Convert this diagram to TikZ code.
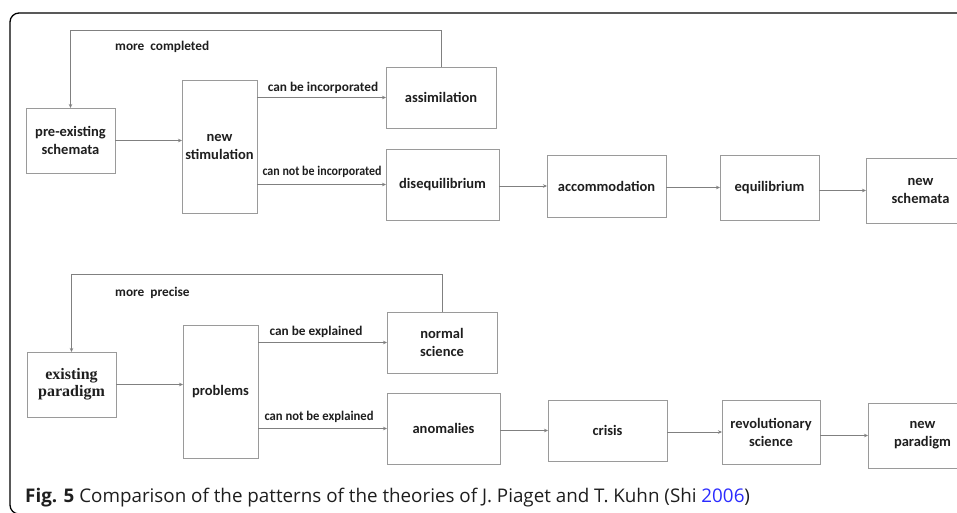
\documentclass[tikz,border=0pt]{standalone}
\usepackage{fontspec}
\setmainfont{Carlito}
\newfontfamily\serifbox{Liberation Serif}
\newfontfamily\capfont{Open Sans}
\usetikzlibrary{arrows.meta}
\definecolor{boxgray}{HTML}{9A9A9A}
\definecolor{linegray}{HTML}{808080}
\definecolor{txt}{HTML}{1E1E1E}
\definecolor{linkblue}{HTML}{2B2BFF}
\begin{document}
\begin{tikzpicture}[x=1pt,y=-1pt,
  box/.style={draw=boxgray,line width=0.9pt,inner sep=0pt,outer sep=0pt,align=center,
    font=\fontsize{14.5}{18}\selectfont\bfseries,text=txt},
  arr/.style={draw=linegray,line width=0.9pt,-{Stealth[length=4pt,width=3.5pt]}},
  lab/.style={font=\fontsize{13.3}{16}\selectfont\bfseries,text=txt,inner sep=0pt}]
\useasboundingbox (0,0) rectangle (957,512);
\clip (0,0) rectangle (957,512);
% frame
\draw[black,line width=1.3pt,rounded corners=9pt] (990,13) -- (10,13) -- (10,514) -- (990,514);
% ---------- top diagram ----------
\node[box,minimum width=89pt,minimum height=65pt] (pre) at (70.5,140.5) {pre-existing\\schemata};
\node[box,minimum width=75pt,minimum height=133pt] (stim) at (219.5,146.5) {new\\stimulation};
\node[box,minimum width=110pt,minimum height=61pt] (assim) at (441,97.5) {assimilation};
\node[box,minimum width=113pt,minimum height=71pt] (diseq) at (442.5,184.5) {disequilibrium};
\node[box,minimum width=119pt,minimum height=62pt] (accom) at (606.5,186) {accommodation};
\node[box,minimum width=99pt,minimum height=65pt] (equil) at (769.5,187.5) {equilibrium};
\node[box,minimum width=109pt,minimum height=65pt] (newsch) at (920.5,190.5) {new\\schemata};
\coordinate (fbtopA) at (0,30);
\draw[arr] (assim.north) -- (assim.north |- fbtopA) -| (pre.north);
\draw[arr] (pre.east) -- (stim.west |- pre.east);
\draw[arr] (stim.east |- assim) -- (assim);
\draw[arr] (stim.east |- diseq) -- (diseq);
\draw[arr] (diseq.east |- accom) -- (accom);
\draw[arr] (accom.east |- equil) -- (equil);
\draw[arr] (equil.east |- newsch) -- (newsch);
\node[lab,anchor=west] (mc) at (115,47) {more\ \ completed};
\node[lab] (cbi) at (323,88) {can be incorporated};
\node[lab] (cnbi) at (322,172) {\scalebox{0.9}[1]{can not be incorporated}};
% ---------- bottom diagram ----------
\node[box,minimum width=89pt,minimum height=65pt,font=\serifbox\fontsize{16}{17}\selectfont\bfseries] (exist) at (71.5,384.5) {existing\\paradigm};
\node[box,minimum width=75pt,minimum height=133pt] (prob) at (220.5,391.5) {problems};
\node[box,minimum width=110pt,minimum height=61pt] (normal) at (442,342.5) {normal\\science};
\node[box,minimum width=113pt,minimum height=71pt] (anom) at (443.5,428.5) {anomalies};
\node[box,minimum width=119pt,minimum height=61pt] (crisis) at (607.5,430.5) {crisis};
\node[box,minimum width=98pt,minimum height=64pt] (revol) at (771,432) {revolutionary\\science};
\node[box,minimum width=109pt,minimum height=65pt] (newpar) at (922.5,435.5) {new\\paradigm};
\coordinate (fbtopB) at (0,274);
\draw[arr] (normal.north) -- (normal.north |- fbtopB) -| (exist.north);
\draw[arr] (exist.east) -- (prob.west |- exist.east);
\draw[arr] (prob.east |- normal) -- (normal);
\draw[arr] (prob.east |- anom) -- (anom);
\draw[arr] (anom.east |- crisis) -- (crisis);
\draw[arr] (crisis.east |- revol) -- (revol);
\draw[arr] (revol.east |- newpar) -- (newpar);
\node[lab,anchor=west] (mp) at (115,293) {more\ \ precise};
\node[lab] (cbe) at (316,332) {can be explained};
\node[lab] (cnbe) at (319,417) {\scalebox{0.95}[1]{can not be explained}};
% caption
\node[anchor=base west,inner sep=0pt,text=txt,font=\capfont\fontsize{18.8}{22}\selectfont] (cap) at (25,502)
  {\textbf{Fig. 5} Comparison of the patterns of the theories of J. Piaget and T. Kuhn (Shi \textcolor{linkblue}{2006})};
\end{tikzpicture}
\end{document}
